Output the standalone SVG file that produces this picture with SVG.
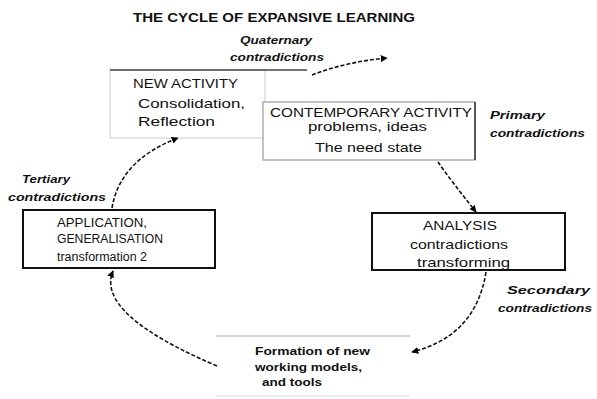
<svg xmlns="http://www.w3.org/2000/svg" width="597" height="399" viewBox="0 0 597 399">
<defs>
<marker id="ah" viewBox="0 0 10 10" refX="9" refY="5" markerWidth="7" markerHeight="7" orient="auto" markerUnits="userSpaceOnUse">
<path d="M0,0 L10,5 L0,10 z" fill="#000"/>
</marker>
<style>
text{font-family:"Liberation Sans",Arial,sans-serif;fill:#111}
.t{font-size:12px;font-weight:bold}
.n{font-size:12px}
.b{font-size:13px}
.i{font-size:10px;font-style:italic;font-weight:bold}
.f{font-size:10px;font-weight:bold}
.c{fill:none;stroke:#111;stroke-width:1.6;stroke-dasharray:4 2;marker-end:url(#ah)}
</style>
</defs>
<rect width="597" height="399" fill="#fff"/>
<text class="t" x="133" y="22" textLength="282" lengthAdjust="spacingAndGlyphs">THE CYCLE OF EXPANSIVE LEARNING</text>
<text class="i" x="240" y="44" textLength="72" lengthAdjust="spacingAndGlyphs">Quaternary</text>
<text class="i" x="230" y="61" textLength="94" lengthAdjust="spacingAndGlyphs">contradictions</text>
<g id="new-activity">
<rect x="110" y="70" width="155" height="68" fill="#fff" stroke="#ccc" stroke-width="1"/>
<line x1="110" y1="70" x2="307" y2="70" stroke="#444" stroke-width="1.5"/>
<text class="n" x="133" y="88" textLength="105" lengthAdjust="spacingAndGlyphs">NEW ACTIVITY</text>
<text class="b" x="138" y="108" textLength="107" lengthAdjust="spacingAndGlyphs">Consolidation,</text>
<text class="b" x="138" y="126" textLength="77" lengthAdjust="spacingAndGlyphs">Reflection</text>
</g>
<g id="contemporary-activity">
<rect x="263" y="102" width="212" height="58" fill="#fff" stroke="#999" stroke-width="1.2"/>
<line x1="475" y1="102" x2="475" y2="160" stroke="#333" stroke-width="1.5"/>
<text class="n" x="270" y="117" textLength="202" lengthAdjust="spacingAndGlyphs">CONTEMPORARY ACTIVITY</text>
<text class="n" x="308" y="131" textLength="119" lengthAdjust="spacingAndGlyphs">problems, ideas</text>
<text class="n" x="315" y="152" textLength="107" lengthAdjust="spacingAndGlyphs">The need state</text>
</g>
<text class="i" x="490" y="119" textLength="55" lengthAdjust="spacingAndGlyphs">Primary</text>
<text class="i" x="490" y="137" textLength="95" lengthAdjust="spacingAndGlyphs">contradictions</text>
<g id="analysis">
<rect x="372" y="213" width="193" height="57" fill="#fff" stroke="#111" stroke-width="2"/>
<text class="n" x="423" y="230" textLength="74" lengthAdjust="spacingAndGlyphs">ANALYSIS</text>
<text class="b" x="410" y="249" textLength="98" lengthAdjust="spacingAndGlyphs">contradictions</text>
<text class="b" x="417" y="267" textLength="93" lengthAdjust="spacingAndGlyphs">transforming</text>
</g>
<text class="i" x="507" y="294" textLength="83" lengthAdjust="spacingAndGlyphs">Secondary</text>
<text class="i" x="498" y="312" textLength="94" lengthAdjust="spacingAndGlyphs">contradictions</text>
<g id="formation">
<line x1="216" y1="336" x2="410" y2="336" stroke="#aaa" stroke-width="1.2"/>
<line x1="216" y1="396" x2="410" y2="396" stroke="#ddd" stroke-width="1"/>
<text class="f" x="255" y="355" textLength="115" lengthAdjust="spacingAndGlyphs">Formation of new</text>
<text class="f" x="255" y="371" textLength="107" lengthAdjust="spacingAndGlyphs">working models,</text>
<text class="f" x="262" y="386" textLength="60" lengthAdjust="spacingAndGlyphs">and tools</text>
</g>
<g id="application">
<rect x="23" y="210" width="192" height="58" fill="#fff" stroke="#111" stroke-width="2"/>
<text class="n" x="57" y="227" textLength="90" lengthAdjust="spacingAndGlyphs">APPLICATION,</text>
<text class="n" x="57" y="243" textLength="106" lengthAdjust="spacingAndGlyphs">GENERALISATION</text>
<text class="n" x="57" y="261" font-size="10" textLength="90" lengthAdjust="spacingAndGlyphs">transformation 2</text>
</g>
<text class="i" x="22" y="183" textLength="48" lengthAdjust="spacingAndGlyphs">Tertiary</text>
<text class="i" x="8" y="201" textLength="98" lengthAdjust="spacingAndGlyphs">contradictions</text>
<g id="connectors">
<path class="c" d="M312,75 Q345,62 387,58"/>
<path class="c" d="M438,162 Q452,182 476,212"/>
<path class="c" d="M486,272 Q476,336 412,352"/>
<path class="c" d="M217,366 Q95,314 113,271"/>
<path class="c" d="M112,208 Q120,160 178,138"/>
</g>
</svg>
